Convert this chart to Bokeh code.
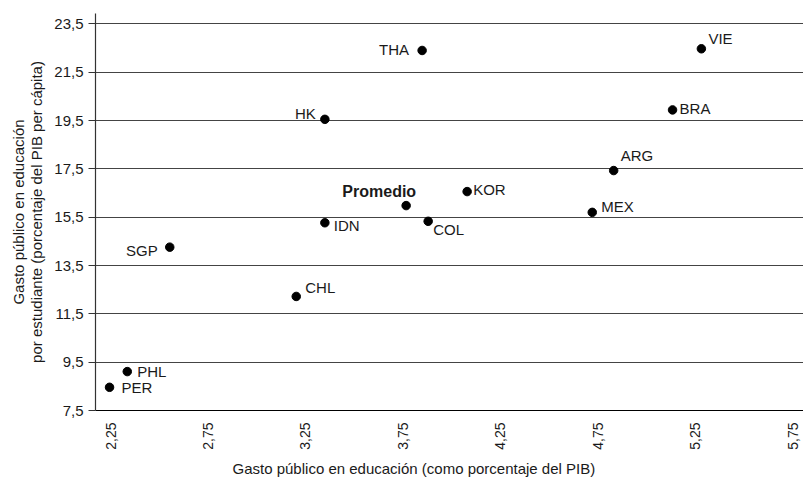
import math
from bokeh.plotting import figure
from bokeh.models import ColumnDataSource, FixedTicker, Range1d, Title
from bokeh.core.properties import value
from bokeh.embed import file_html
from bokeh.resources import INLINE

# ---- data ----
countries = ["PER", "PHL", "SGP", "CHL", "IDN", "HK", "Promedio", "THA",
             "COL", "KOR", "MEX", "ARG", "BRA", "VIE"]
gasto_pib = [2.245, 2.336, 2.554, 3.203, 3.350, 3.350, 3.767, 3.849,
             3.880, 4.080, 4.722, 4.832, 5.134, 5.282]
gasto_estudiante = [8.46, 9.11, 14.26, 12.22, 15.27, 19.55, 15.98, 22.40,
                    15.33, 16.56, 15.70, 17.43, 19.94, 22.47]

x_ticks = [2.25, 2.75, 3.25, 3.75, 4.25, 4.75, 5.25, 5.75]
x_tick_labels = ["2,25", "2,75", "3,25", "3,75", "4,25", "4,75", "5,25", "5,75"]
y_ticks = [7.5, 9.5, 11.5, 13.5, 15.5, 17.5, 19.5, 21.5, 23.5]
y_tick_labels = ["7,5", "9,5", "11,5", "13,5", "15,5", "17,5", "19,5", "21,5", "23,5"]

x_title = "Gasto público en educación (como porcentaje del PIB)"
y_title = "Gasto público en educación\npor estudiante (porcentaje del PIB per cápita)"

# label placement (screen offsets, styling only)
label_style = {
    "PER": (12, 0, "left"), "PHL": (10, 0, "left"), "SGP": (-12, 3, "right"),
    "CHL": (9, -9, "left"), "IDN": (9, 3, "left"), "HK": (-9, -6, "right"),
    "Promedio": (10, -14, "right"), "THA": (-13, -1, "right"),
    "COL": (5, 8, "left"), "KOR": (6, -2, "left"), "MEX": (9, -6, "left"),
    "ARG": (7, -15, "left"), "BRA": (7, -1, "left"), "VIE": (7, -10, "left"),
}

FONT = "Liberation Sans"
TXT = "#1a1a1a"

p = figure(width=803, height=483, output_backend="svg", toolbar_location=None,
           x_range=Range1d(2.173, 5.806), y_range=Range1d(7.5, 23.93),
           min_border_left=95, min_border_right=0, min_border_top=13,
           min_border_bottom=73)
p.outline_line_color = None
p.background_fill_color = "white"

src = ColumnDataSource(dict(
    x=gasto_pib, y=gasto_estudiante, name=countries,
    dx=[label_style[c][0] for c in countries],
    dy=[label_style[c][1] for c in countries],
    align=[label_style[c][2] for c in countries],
    style=["bold" if c == "Promedio" else "normal" for c in countries],
    fsize=["16px" if c == "Promedio" else "15px" for c in countries],
))

p.scatter("x", "y", source=src, size=8.5, color="black")
p.text("x", "y", text="name", source=src, x_offset="dx", y_offset="dy",
       text_align="align", text_baseline="middle", text_font=value(FONT),
       text_font_size="fsize", text_font_style="style", text_color=TXT)

# x axis
xa = p.xaxis[0]
xa.ticker = FixedTicker(ticks=x_ticks)
xa.major_label_overrides = {t: l for t, l in zip(x_ticks, x_tick_labels)}
xa.major_label_orientation = math.pi / 2
xa.major_tick_out = 0
xa.major_tick_in = 0
xa.minor_tick_out = 0
xa.minor_tick_in = 0
xa.axis_line_color = "black"
xa.axis_line_width = 1.2
xa.major_label_standoff = 12
xa.major_label_text_font = FONT
xa.major_label_text_font_size = "14px"
xa.major_label_text_color = TXT

# x title placed below the axis, shifted like in the reference
p.add_layout(Title(text=x_title, align="left", offset=137, standoff=10,
                   text_font=FONT, text_font_size="15px",
                   text_font_style="normal", text_color=TXT), "below")

# y axis
ya = p.yaxis[0]
ya.ticker = FixedTicker(ticks=y_ticks)
ya.major_label_overrides = {t: l for t, l in zip(y_ticks, y_tick_labels)}
ya.major_tick_out = 7
ya.major_tick_in = 0
ya.minor_tick_out = 0
ya.minor_tick_in = 0
ya.major_tick_line_color = "#333333"
ya.axis_line_color = "#333333"
ya.axis_line_width = 1.2
ya.major_label_standoff = 5
ya.major_label_text_font = FONT
ya.major_label_text_font_size = "15px"
ya.major_label_text_color = TXT
ya.axis_label = y_title
ya.axis_label_text_font = FONT
ya.axis_label_text_font_size = "15px"
ya.axis_label_text_font_style = "normal"
ya.axis_label_text_color = TXT
ya.axis_label_standoff = 6
ya.axis_label_text_line_height = 1.1

p.xgrid.grid_line_color = None
p.ygrid.grid_line_color = "#444444"
p.ygrid.grid_line_width = 1.1

open("out.html", "w").write(file_html(p, INLINE))
